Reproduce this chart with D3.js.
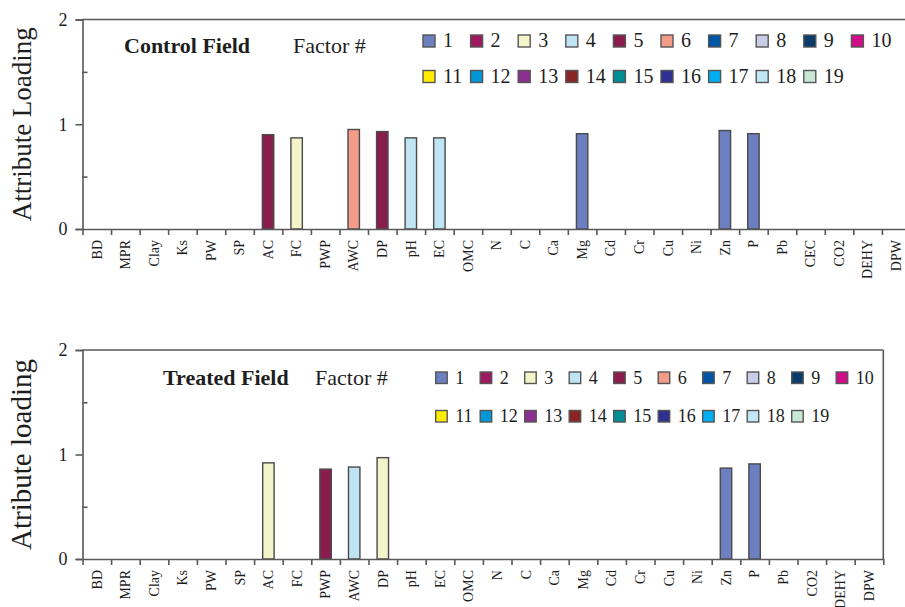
<!DOCTYPE html>
<html>
<head>
<meta charset="utf-8">
<script src="https://cdn.jsdelivr.net/npm/d3@7"></script>
<style>
  html, body { margin: 0; padding: 0; background: #fff; }
  svg { display: block; font-family: "Liberation Serif", "Times New Roman", serif; }
</style>
</head>
<body>
<svg id="chart" width="905" height="607"></svg>
<script>
// Soil attributes on the x axis
const controlAttributes = ["BD","MPR","Clay","Ks","PW","SP","AC","FC","PWP","AWC","DP","pH","EC","OMC","N","C","Ca","Mg","Cd","Cr","Cu","Ni","Zn","P","Pb","CEC","CO2","DEHY","DPW"];
const treatedAttributes = ["BD","MPR","Clay","Ks","PW","SP","AC","FC","PWP","AWC","DP","pH","EC","OMC","N","C","Ca","Mg","Cd","Cr","Cu","Ni","Zn","P","Pb","CO2","DEHY","DPW"];

// Highest loading of each attribute (0 = not loaded) and the factor it loads on
const controlLoadings = [0,0,0,0,0,0,0.90,0.87,0,0.95,0.93,0.87,0.87,0,0,0,0,0.91,0,0,0,0,0.94,0.91,0,0,0,0,0];
const controlFactors  = [0,0,0,0,0,0,5,3,0,6,5,4,4,0,0,0,0,1,0,0,0,0,1,1,0,0,0,0,0];
const treatedLoadings = [0,0,0,0,0,0,0.92,0,0.86,0.88,0.97,0,0,0,0,0,0,0,0,0,0,0,0.87,0.91,0,0,0,0];
const treatedFactors  = [0,0,0,0,0,0,3,0,5,4,3,0,0,0,0,0,0,0,0,0,0,0,1,1,0,0,0,0];

// Factor numbers and their fill colours
const factorIds = d3.range(1, 20);
const factorColors = ["#6b7fc1","#9e1b61","#f3f4c9","#bfe5f4","#8b1d4e","#f39c89","#0056a6","#c9cde7","#0b3b6b",
                      "#d10d89","#ffec00","#0096d7","#8d2f92","#8b2525","#008e96","#2f3192","#00aeef","#c1e6f4","#c9e7d6"];
const yTicks = [0, 1, 2];
const yMinorTicks = [0.5, 1.5];

const svg = d3.select("#chart");
const color = d3.scaleOrdinal().domain(factorIds).range(factorColors);
const axisColor = "#585858";
const textColor = "#1e1e1e";

function panel(cfg) {
  const g = svg.append("g");
  const n = cfg.attributes.length;
  const x = d3.scaleBand().domain(cfg.attributes).range([cfg.left, cfg.left + n * cfg.step]).paddingInner(0);
  const xEdge = d3.scaleLinear().domain([0, n]).range([cfg.left, cfg.left + n * cfg.step]);
  const y = d3.scaleLinear().domain([0, 2]).range([cfg.bottom, cfg.top]);

  // frame: top border (and right border when it falls inside the view)
  g.append("line").attr("x1", cfg.left).attr("x2", cfg.left + n * cfg.step)
    .attr("y1", y(2)).attr("y2", y(2)).attr("stroke", axisColor).attr("stroke-width", 1.6);
  if (cfg.rightBorder) {
    g.append("line").attr("x1", cfg.left + n * cfg.step).attr("x2", cfg.left + n * cfg.step)
      .attr("y1", y(2)).attr("y2", y(0)).attr("stroke", axisColor).attr("stroke-width", 1.6);
  }

  // bars
  const rows = cfg.attributes.map((a, i) => ({ a, v: cfg.loadings[i], f: cfg.factors[i] })).filter(d => d.v > 0);
  const bw = x.bandwidth() * 0.4;
  g.selectAll("rect.bar").data(rows).join("rect").attr("class", "bar")
    .attr("x", d => x(d.a) + (x.bandwidth() - bw) / 2)
    .attr("width", bw)
    .attr("y", d => y(d.v))
    .attr("height", d => y(0) - y(d.v))
    .attr("fill", d => color(d.f))
    .attr("stroke", "#4a4a4a").attr("stroke-width", 1.4);

  // y axis: major ticks outside with labels, minor ticks inside
  const yAxis = g.append("g").attr("transform", `translate(${cfg.left},0)`)
    .call(d3.axisLeft(y).tickValues(yTicks).tickSize(7).tickPadding(8).tickFormat(d3.format("d")));
  yAxis.selectAll("text").attr("font-size", 18).attr("fill", textColor)
    .attr("font-family", "Liberation Serif");
  g.append("g").attr("transform", `translate(${cfg.left},0)`)
    .call(d3.axisRight(y).tickValues(yMinorTicks).tickSize(5).tickFormat(""))
    .select(".domain").remove();

  // x axis: ticks on category boundaries, rotated labels at centres
  g.append("g").attr("transform", `translate(0,${cfg.bottom})`)
    .call(d3.axisBottom(xEdge).tickValues(d3.range(n + 1)).tickSize(6).tickSizeOuter(0).tickFormat(""));
  const xl = g.append("g").attr("transform", `translate(0,${cfg.bottom})`)
    .call(d3.axisBottom(x).tickSize(0).tickPadding(0));
  xl.select(".domain").remove();
  xl.selectAll("text")
    .attr("font-size", 14).attr("fill", textColor).attr("font-family", "Liberation Serif")
    .attr("text-anchor", "end").attr("transform", "rotate(-90)")
    .attr("x", -11).attr("y", 0).attr("dy", "0.34em");

  g.selectAll(".domain, .tick line").attr("stroke", axisColor).attr("stroke-width", 1.6);

  // y axis title
  g.append("text")
    .attr("transform", `translate(${cfg.titleX},${(y(0) + y(2)) / 2}) rotate(-90)`)
    .attr("text-anchor", "middle").attr("font-size", cfg.yTitleSize).attr("fill", textColor)
    .text(cfg.yTitle);

  // panel heading
  g.append("text").attr("x", cfg.headX).attr("y", cfg.headY).attr("font-size", 22)
    .attr("font-weight", "bold").attr("fill", textColor).text(cfg.heading);
  g.append("text").attr("x", cfg.factorX).attr("y", cfg.headY).attr("font-size", 22)
    .attr("fill", textColor).text("Factor #");

  // legend: two rows of factor swatches
  const lg = g.append("g");
  const items = lg.selectAll("g").data(factorIds).join("g")
    .attr("transform", (d, i) => `translate(${cfg.legX + (i % 10) * cfg.legDx},${cfg.legY + Math.floor(i / 10) * cfg.legDy})`);
  items.append("rect").attr("width", cfg.sw).attr("height", cfg.sw)
    .attr("fill", d => color(d)).attr("stroke", "#555").attr("stroke-width", 1.4);
  items.append("text").attr("x", cfg.sw + 8).attr("y", cfg.sw).attr("font-size", cfg.legFont)
    .attr("fill", textColor).text(d => d);
}

panel({
  attributes: controlAttributes, loadings: controlLoadings, factors: controlFactors,
  left: 82.5, step: 28.55, top: 19.5, bottom: 229, rightBorder: false,
  yTitle: "Attribute Loading", yTitleSize: 27, titleX: 31,
  heading: "Control Field", headX: 124, factorX: 293, headY: 53,
  legX: 423, legY: 35, legDx: 47.6, legDy: 35.5, sw: 12, legFont: 20
});

panel({
  attributes: treatedAttributes, loadings: treatedLoadings, factors: treatedFactors,
  left: 82.5, step: 28.6, top: 350, bottom: 559, rightBorder: true,
  yTitle: "Atribute loading", yTitleSize: 29, titleX: 31,
  heading: "Treated Field", headX: 163, factorX: 315, headY: 385,
  legX: 435.7, legY: 372, legDx: 44.5, legDy: 38.5, sw: 11.5, legFont: 18
});
</script>
</body>
</html>
